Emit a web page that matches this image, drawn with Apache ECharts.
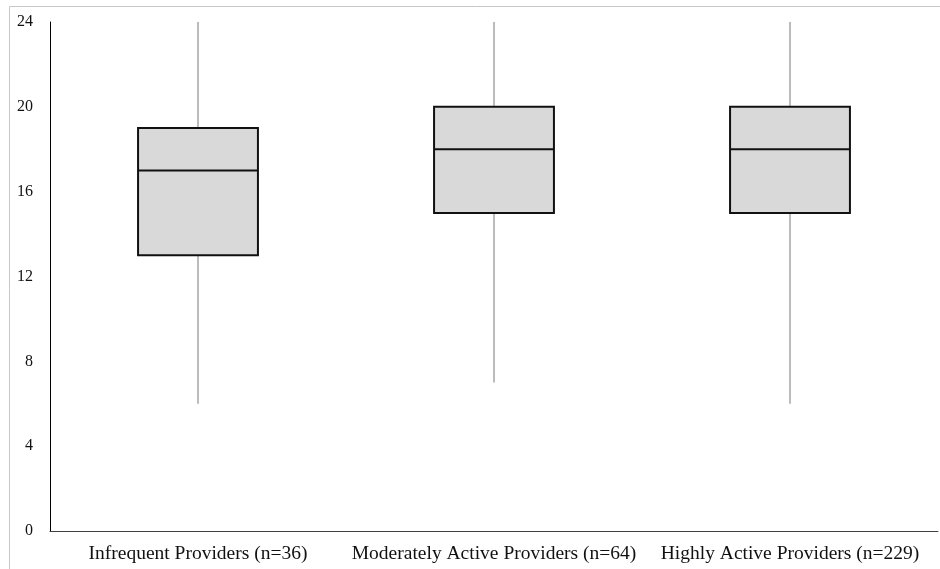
<!DOCTYPE html>
<html>
<head>
<meta charset="utf-8">
<script src="https://cdn.jsdelivr.net/npm/echarts@6/dist/echarts.min.js"></script>
<style>html,body{margin:0;padding:0;background:#fff;}#c{width:940px;height:569px;}</style>
</head>
<body>
<div id="c"></div>
<script>
const categories = ['Infrequent Providers (n=36)', 'Moderately Active Providers (n=64)', 'Highly Active Providers (n=229)'];
const minVals = [6, 7, 6];
const q1Vals = [13, 15, 15];
const medianVals = [17, 18, 18];
const q3Vals = [19, 20, 20];
const maxVals = [24, 24, 24];
const yTicks = [0, 4, 8, 12, 16, 20, 24];

const data = categories.map((c, i) => [i, minVals[i], q1Vals[i], medianVals[i], q3Vals[i], maxVals[i]]);

const chart = echarts.init(document.getElementById('c'));
chart.setOption({
  animation: false,
  backgroundColor: '#fff',
  graphic: [{
    type: 'polyline',
    shape: {points: [[9.5, 600], [9.5, 6.5], [960, 6.5]]},
    style: {fill: 'none', stroke: '#c8c8c8', lineWidth: 1}, z: -1
  }],
  grid: {left: 50, right: 2, top: 22, bottom: 38},
  xAxis: {
    type: 'category', data: categories,
    axisLine: {lineStyle: {color: '#404040', width: 1}},
    axisTick: {show: false},
    axisLabel: {color: '#111', fontFamily: 'Liberation Serif', fontSize: 19.5, margin: 13, interval: 0}
  },
  yAxis: {
    type: 'value', min: yTicks[0], max: yTicks[yTicks.length - 1], interval: 4,
    axisLine: {show: true, lineStyle: {color: '#000', width: 1}},
    axisTick: {show: false},
    splitLine: {show: false},
    axisLabel: {color: '#111', fontFamily: 'Liberation Serif', fontSize: 16, margin: 17}
  },
  series: [{
    type: 'custom',
    data: data,
    encode: {x: 0, y: [1, 2, 3, 4, 5]},
    renderItem: function (params, api) {
      const x = api.value(0);
      const band = api.size([1, 0])[0];
      const w = band * 0.405;
      const pMin = api.coord([x, api.value(1)]);
      const pQ1 = api.coord([x, api.value(2)]);
      const pMed = api.coord([x, api.value(3)]);
      const pQ3 = api.coord([x, api.value(4)]);
      const pMax = api.coord([x, api.value(5)]);
      const cx = pMin[0];
      return {
        type: 'group',
        children: [
          {type: 'line', shape: {x1: cx, y1: pMin[1], x2: cx, y2: pMax[1]},
           style: {stroke: '#a6a6a6', lineWidth: 1.5}},
          {type: 'rect', shape: {x: cx - w / 2, y: pQ3[1], width: w, height: pQ1[1] - pQ3[1]},
           style: {fill: '#d9d9d9', stroke: '#111', lineWidth: 2}},
          {type: 'line', shape: {x1: cx - w / 2, y1: pMed[1], x2: cx + w / 2, y2: pMed[1]},
           style: {stroke: '#111', lineWidth: 2}}
        ]
      };
    }
  }]
});
</script>
</body>
</html>
